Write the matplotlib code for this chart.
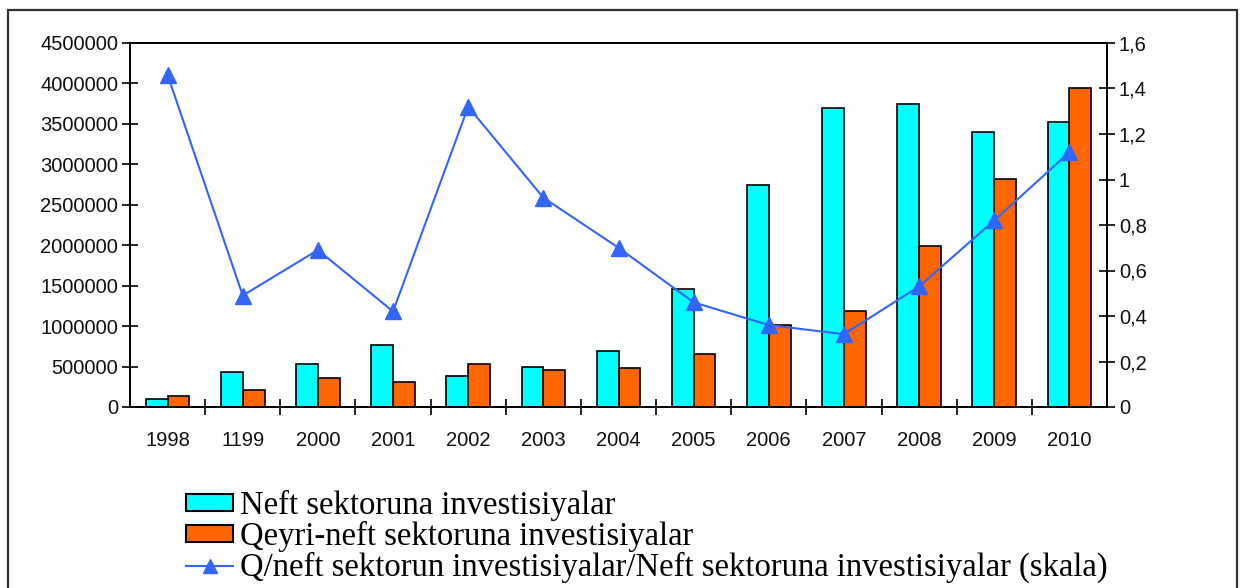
import matplotlib
matplotlib.use("Agg")
import matplotlib.pyplot as plt
import numpy as np
from matplotlib.patches import Rectangle, Patch
from matplotlib.lines import Line2D
from matplotlib.ticker import FuncFormatter, FixedLocator

years = ["1998", "1199", "2000", "2001", "2002", "2003", "2004",
         "2005", "2006", "2007", "2008", "2009", "2010"]
neft = [95000, 430000, 528000, 767000, 384000, 499000, 697000,
        1456000, 2747000, 3693000, 3743000, 3396000, 3520000]
qeyri_neft = [136000, 210000, 355000, 305000, 528000, 458000, 479000,
              652000, 1015000, 1187000, 1991000, 2815000, 3940000]
ratio = [1.46, 0.49, 0.69, 0.42, 1.32, 0.92, 0.70,
         0.46, 0.36, 0.32, 0.53, 0.82, 1.12]

labels = ["Neft sektoruna investisiyalar",
          "Qeyri-neft sektoruna investisiyalar",
          "Q/neft sektorun investisiyalar/Neft sektoruna investisiyalar (skala)"]

c_neft = "#00FFFF"
c_qeyri = "#FF6600"
c_line = "#3366FF"

tick_font = "Liberation Sans"
legend_font = "Liberation Serif"

fig = plt.figure(figsize=(12.45, 5.88), dpi=100)
ax = fig.add_axes([130 / 1245, 1 - 407 / 588, (1107 - 130) / 1245, (407 - 43) / 588])
ax2 = ax.twinx()

x = np.arange(len(years))
w = 0.29
ax.bar(x - w / 2, neft, width=w, color=c_neft, edgecolor="black", linewidth=1.2, zorder=2)
ax.bar(x + w / 2, qeyri_neft, width=w, color=c_qeyri, edgecolor="black", linewidth=1.2, zorder=2)
ax2.plot(x, ratio, color=c_line, linewidth=1.5, marker="^", markersize=12,
         markerfacecolor=c_line, markeredgecolor=c_line, zorder=3)

ax.set_xlim(-0.5, len(years) - 0.5)
ax.set_ylim(0, 4500000)
ax.set_yticks(np.arange(0, 4500001, 500000))
ax.yaxis.set_major_formatter(FuncFormatter(lambda v, p: f"{int(v)}"))
ax2.set_ylim(0, 1.6)
ax2.set_yticks(np.arange(0, 1.61, 0.2))
ax2.yaxis.set_major_formatter(FuncFormatter(lambda v, p: f"{round(v, 1):g}".replace(".", ",")))

ax.set_xticks(x)
ax.set_xticklabels(years)
ax.xaxis.set_minor_locator(FixedLocator(np.arange(0.5, len(years) - 0.5, 1)))
ax.tick_params(axis="x", which="major", length=0, pad=17)
ax.tick_params(axis="x", which="minor", direction="inout", length=12, width=1.2)
ax.tick_params(axis="y", direction="inout", length=11, width=1.2, pad=3)
ax2.tick_params(axis="y", direction="inout", length=11, width=1.2, pad=3)

for a in (ax, ax2):
    for lab in a.get_xticklabels() + a.get_yticklabels():
        lab.set_fontfamily(tick_font)
        lab.set_fontsize(14.5)
        lab.set_color("#111111")
    for s in a.spines.values():
        s.set_linewidth(1.3)
        s.set_color("black")

handles = [Patch(facecolor=c_neft, edgecolor="black", linewidth=1.5),
           Patch(facecolor=c_qeyri, edgecolor="black", linewidth=1.5),
           Line2D([], [], color=c_line, linewidth=1.5, marker="^", markersize=10,
                  markerfacecolor=c_line, markeredgecolor=c_line)]
fig.legend(handles, labels, loc="upper left", bbox_to_anchor=(186 / 1245, 1 - 490 / 588),
           frameon=False, prop={"family": legend_font, "size": 23.5},
           handlelength=1.45, handleheight=0.4, handletextpad=0.2,
           labelspacing=0.0, borderaxespad=0, borderpad=0)

fig.patches.append(Rectangle((8 / 1245, -0.02), (1237 - 8) / 1245, 1.02 - 10 / 588,
                             transform=fig.transFigure, fill=False,
                             edgecolor="#333333", linewidth=1.6))

fig.savefig("out.png", dpi=100)
